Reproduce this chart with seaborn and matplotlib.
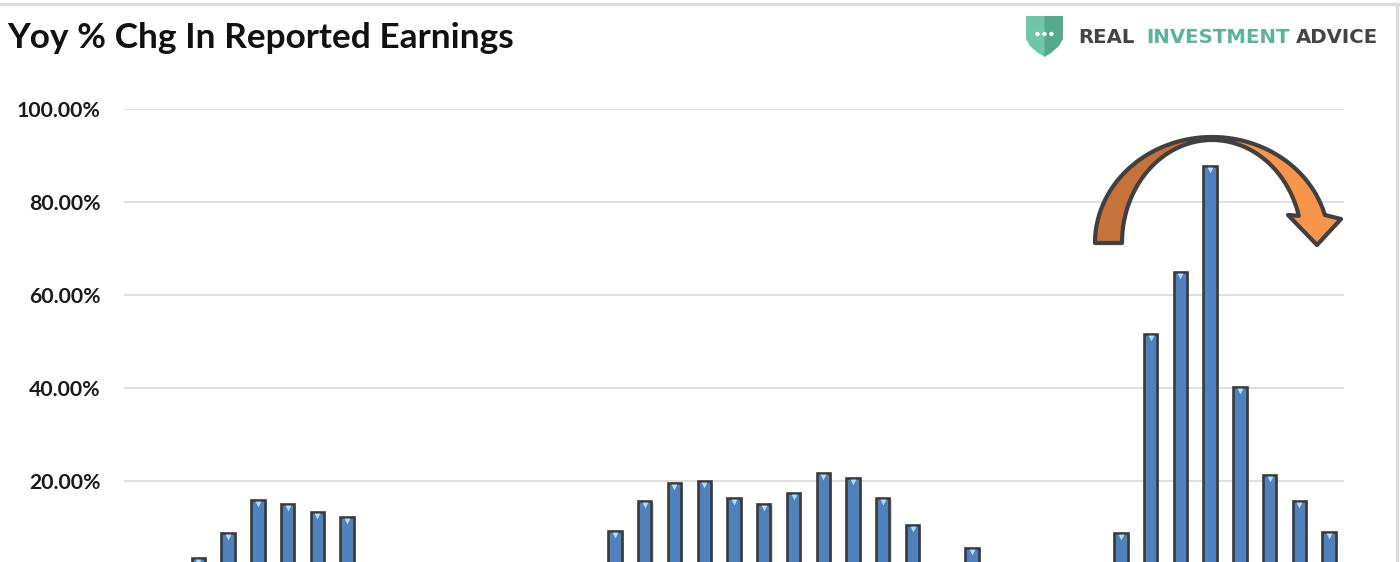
import numpy as np
import pandas as pd
import matplotlib
matplotlib.use("Agg")
import matplotlib.pyplot as plt
import seaborn as sns
from matplotlib.patches import Polygon, Ellipse
from matplotlib.lines import Line2D
import matplotlib.patheffects as pe

# Quarterly year-over-year change in reported earnings (%), oldest first
quarters = list(range(41))
yoy_change = [-4.0, 1.0, 3.4, 8.8, 15.9, 15.1, 13.3, 12.3, 1.8,
              -1.5, -6.9, -12.8, -18.5, -14.6, -11.2, -4.0,
              9.2, 15.7, 19.6, 20.0, 16.3, 15.1, 17.4, 21.7, 20.6, 16.3, 10.5, 1.6, 5.6,
              1.2, -2.5, -11.0, -6.0,
              8.8, 51.6, 64.9, 87.7, 40.2, 21.3, 15.7, 9.0]
y_ticks = [20, 40, 60, 80, 100]
y_tick_labels = [f"{v:.2f}%" for v in y_ticks]

title = "Yoy % Chg In Reported Earnings"
brand_parts = [("REAL", "#444444"), ("INVESTMENT", "#5ab39a"), ("ADVICE", "#444444")]

W, H = 1400, 562
sns.set_theme(style="white")
plt.rcParams["font.family"] = ["Lato", "DejaVu Sans"]

fig = plt.figure(figsize=(W / 100, H / 100), dpi=100)
fig.patch.set_facecolor("white")


def fx(x):
    return x / W


def fy(y):
    return 1 - y / H


# plot area: gridline band from x=124..1344, top at the 100% line, bottom at the figure edge
ax = fig.add_axes([fx(124), 0, fx(1344) - fx(124), fy(109)])
df = pd.DataFrame({"quarter": quarters, "yoy": yoy_change})
sns.barplot(data=df, x="quarter", y="yoy", color="#4f81bd", saturation=1,
            width=0.45, edgecolor="#3a3a3a", linewidth=1.9, ax=ax, zorder=3)
for bar in ax.patches:
    bar.set_path_effects([pe.SimplePatchShadow(offset=(1.5, -1.5), alpha=0.25,
                                               shadow_rgbFace="#555555"), pe.Normal()])

# bevel highlight at the top of each bar
ax.scatter(np.arange(len(quarters)), np.array(yoy_change) - 0.8, marker="v", s=18,
           color="#b3dbfa", linewidths=0, zorder=4)

ax.set_xlim(-0.5, len(quarters) - 0.5)
ax.set_ylim(100 - (562 - 109) / 4.65, 100)
ax.set_yticks(y_ticks)
ax.set_yticklabels(y_tick_labels, fontsize=15.3, fontweight="bold", color="#1a1a1a")
ax.tick_params(axis="y", length=0, pad=17)
ax.set_xticks([])
ax.set_xlabel("")
ax.set_ylabel("")
ax.yaxis.grid(True, color="#d9d9d9", linewidth=1.2, zorder=0)
ax.set_axisbelow(True)
for s in ax.spines.values():
    s.set_visible(False)
ax.patch.set_alpha(0)

# title
fig.text(fx(7), fy(48), title, fontsize=25.4, fontweight="bold", color="#111111",
         ha="left", va="baseline")

# frame lines along the top and right edges
fig.add_artist(Line2D([0, 1], [fy(4), fy(4)], transform=fig.transFigure,
                      color="#dcdcdc", linewidth=2.5))
fig.add_artist(Line2D([fx(1397), fx(1397)], [fy(4), 0], transform=fig.transFigure,
                      color="#dcdcdc", linewidth=2.5))

# shield logo
shield_l = [(1026, 16), (1045, 16), (1045, 57), (1038, 53), (1030, 46), (1026, 39)]
shield_r = [(1044.5, 16), (1063, 16), (1063, 39), (1059, 46), (1051, 53), (1044.5, 57)]
for pts, col in [(shield_l, "#6fc6a9"), (shield_r, "#53aa8d")]:
    fig.add_artist(Polygon([(fx(x), fy(y)) for x, y in pts], closed=True,
                           transform=fig.transFigure, facecolor=col, edgecolor="none"))
for dx in (1037.5, 1044.5, 1051.5):
    fig.add_artist(Ellipse((fx(dx), fy(34)), width=4.4 / W, height=4.4 / H,
                           transform=fig.transFigure, facecolor="white", edgecolor="none"))

brand_x = [1078, 1146, 1296]
for (word, col), x0 in zip(brand_parts, brand_x):
    fig.text(fx(x0), fy(43), word, fontsize=14.2, fontweight="bold", color=col,
             family=["DejaVu Sans"], ha="left", va="baseline")

# curved arrow over the peak
cx, cy = 1212, 243
ao, bo = 117, 106
ai, bi = 90, 103


def arc(a, b, t0, t1, n=60):
    t = np.radians(np.linspace(t0, t1, n))
    return [(cx + a * np.cos(v), cy - b * np.sin(v)) for v in t]


theta_n = np.degrees(np.arcsin(28 / bo))
left_band = arc(ao, bo, 180, 90) + arc(ai, bi, 90, 180)
right_band = (arc(ao, bo, 90, theta_n)
              + [(1341, 219), (1317, 245), (1288, 215)]
              + arc(ai, bi, theta_n, 90))
for pts, col in [(left_band, "#c5733a"), (right_band, "#f7964a")]:
    ax.add_patch(Polygon([(fx(x), fy(y)) for x, y in pts], closed=True,
                         transform=fig.transFigure, facecolor=col, edgecolor="#404040",
                         linewidth=3.0, joinstyle="round", clip_on=False, zorder=10))

fig.savefig("out.png", dpi=100, facecolor="white")
